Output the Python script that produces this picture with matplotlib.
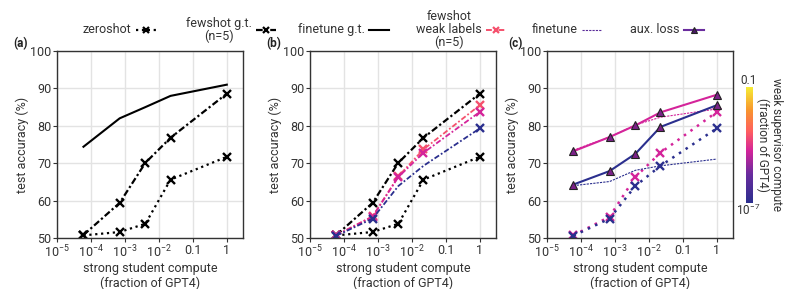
import matplotlib
matplotlib.use("Agg")
import matplotlib.pyplot as plt
from matplotlib.colors import LinearSegmentedColormap, LogNorm
from matplotlib.lines import Line2D

plt.rcParams['font.family'] = ['Roboto', 'DejaVu Sans']
plt.rcParams['mathtext.fontset'] = 'custom'
plt.rcParams['mathtext.rm'] = 'Roboto'
plt.rcParams['font.size'] = 8

# strong student compute (fraction of GPT4)
student = [6e-5, 7e-4, 4e-3, 2.2e-2, 1.0]

# panel (a) / (b) baselines
zeroshot = [50.7, 51.6, 53.8, 65.6, 71.7]
fewshot_gt = [50.8, 59.4, 70.1, 76.8, 88.6]
finetune_gt = [74.4, 82.0, 85.0, 88.0, 91.0]

# fewshot with weak labels, by weak supervisor compute
weak_compute = [3e-4, 5e-5, 1e-7]
fewshot_weak = {
    3e-4: [50.8, 55.8, 66.5, 73.7, 85.5],
    5e-5: [50.7, 55.7, 66.3, 72.8, 83.7],
    1e-7: [50.6, 55.2, 63.9, 69.3, 79.3],
}

# panel (c)
c_compute = [5e-5, 1e-7]
finetune_weak = {
    5e-5: [73.5, 77.0, 80.2, 82.3, 84.5],
    1e-7: [64.0, 65.1, 68.1, 69.3, 71.1],
}
aux_loss = {
    5e-5: [73.2, 77.0, 80.1, 83.6, 88.3],
    1e-7: [64.3, 67.9, 72.5, 79.7, 85.5],
}

xticks = [1e-5, 1e-4, 1e-3, 1e-2, 0.1, 1]
xticklabels = ['$10^{-5}$', '$10^{-4}$', '$10^{-3}$', '$10^{-2}$', '0.1', '1']

cmap = LinearSegmentedColormap.from_list('weak', [
    (0.0, '#2b2f8e'), (0.25, '#6a2c9e'), (0.45, '#d4249a'),
    (0.62, '#ff5f5f'), (0.8, '#f8952e'), (1.0, '#f5ec35')])
norm = LogNorm(1e-7, 0.1)

dashdot = (0, (3, 1.2, 1, 1.2))
gray = '#333333'
LW = 1.6
MS = 5.5
MEW = 1.7

fig = plt.figure(figsize=(7.9, 2.89), dpi=100)
w, h, b = 0.2354, 0.647, 0.1765
lefts = [0.0722, 0.3924, 0.6924]
axes = [fig.add_axes([l, b, w, h]) for l in lefts]

for ax in axes:
    ax.set_xscale('log')
    ax.set_xlim(1e-5, 3)
    ax.set_ylim(50, 100)
    ax.set_yticks([50, 60, 70, 80, 90, 100])
    ax.set_xticks(xticks)
    ax.set_xticklabels(xticklabels)
    ax.grid(True, which='major', color='#e3e3e3', lw=1)
    ax.set_axisbelow(True)
    for s in ax.spines.values():
        s.set_color(gray)
        s.set_linewidth(1)
    ax.tick_params(axis='both', which='major', length=3, color=gray, labelcolor=gray, labelsize=9, pad=1)
    ax.tick_params(axis='x', which='minor', length=2, color=gray)
    ax.set_xlabel('strong student compute\n(fraction of GPT4)', color=gray, fontsize=9, labelpad=1)
    ax.set_ylabel('test accuracy (%)', color=gray, fontsize=9, labelpad=1)

# (a)
ax = axes[0]
ax.plot(student, zeroshot, ls=':', color='k', lw=LW, marker='x', ms=MS, mew=MEW)
ax.plot(student, fewshot_gt, ls=dashdot, color='k', lw=LW, marker='x', ms=MS, mew=MEW)
ax.plot(student, finetune_gt, ls='-', color='k', lw=1.5)

# (b)
ax = axes[1]
ax.plot(student, zeroshot, ls=':', color='k', lw=LW, marker='x', ms=MS, mew=MEW)
ax.plot(student, fewshot_gt, ls=dashdot, color='k', lw=LW, marker='x', ms=MS, mew=MEW)
for wc in weak_compute:
    every = [0, 1, 4] if wc == 1e-7 else None
    ax.plot(student, fewshot_weak[wc], ls=dashdot, color=cmap(norm(wc)), lw=1.3,
            marker='x', ms=MS, mew=MEW, markevery=every)

# (c)
ax = axes[2]
for wc in c_compute:
    col = cmap(norm(wc))
    ax.plot(student, fewshot_weak[wc], ls=(0, (1, 2.2)), color=col, lw=1.8, marker='x', ms=MS, mew=MEW)
    ax.plot(student, finetune_weak[wc], ls=(0, (2, 1)), color=col, lw=0.8)
    ax.plot(student, aux_loss[wc], ls='-', color=col, lw=1.5, marker='^', ms=5.5,
            mfc='#7b2188', mec='#222222', mew=0.8)

for lab, x in zip(['(a)', '(b)', '(c)'], [0.026, 0.346, 0.653]):
    fig.text(x, 0.851, lab, fontsize=8.5, fontweight='bold', ha='center', va='center', color='#222222')

# colorbar
cax = fig.add_axes([0.9443, 0.2976, 0.0089, 0.401])
sm = plt.cm.ScalarMappable(norm=norm, cmap=cmap)
cb = fig.colorbar(sm, cax=cax)
cb.outline.set_visible(False)
cax.set_yticks([])
cax.minorticks_off()
fig.text(0.9475, 0.722, '0.1', fontsize=8.5, ha='center', va='center', color=gray)
fig.text(0.9475, 0.272, '$10^{-7}$', fontsize=8.5, ha='center', va='center', color=gray)
fig.text(0.974, 0.5, 'weak supervisor compute\n(fraction of GPT4)', rotation=-90, fontsize=8.5,
         ha='center', va='center', multialignment='center', color=gray, linespacing=1.0)

# legend, one entry per item so each sits where the reference puts it
handles = [
    Line2D([], [], ls=':', color='k', lw=LW, marker='x', ms=5, mew=1.6),
    Line2D([], [], ls=dashdot, color='k', lw=LW, marker='x', ms=5, mew=1.6),
    Line2D([], [], ls='-', color='k', lw=1.5),
    Line2D([], [], ls=dashdot, color=cmap(norm(3e-4)), lw=1.4, marker='x', ms=5, mew=1.6),
    Line2D([], [], ls=(0, (2, 1)), color='#5b2c9a', lw=0.8),
    Line2D([], [], ls='-', color='#6a2c9e', lw=1.5, marker='^', ms=5, mfc='#4b1a66', mec='#222222', mew=0.8),
]
labels = ['zeroshot', 'fewshot g.t.\n(n=5)', 'finetune g.t.', 'fewshot\nweak labels\n(n=5)',
          'finetune', 'aux. loss']
right_px = [156, 276, 389, 506, 602, 704]
for hd, lb, rp in zip(handles, labels, right_px):
    lg = fig.legend([hd], [lb], loc='center right', bbox_to_anchor=(rp / 790, 0.897),
                    frameon=False, markerfirst=False, numpoints=1, handlelength=1.6,
                    handletextpad=0.35, borderpad=0, borderaxespad=0, fontsize=9)
    for t in lg.get_texts():
        t.set_multialignment('center')
        t.set_color(gray)
        t.set_linespacing(1.0)
    # centre the handle on the (multi-line) text
    for col in lg._legend_handle_box.get_children():
        for item in col.get_children():
            item.align = 'center'

fig.savefig('out.png', dpi=100)
